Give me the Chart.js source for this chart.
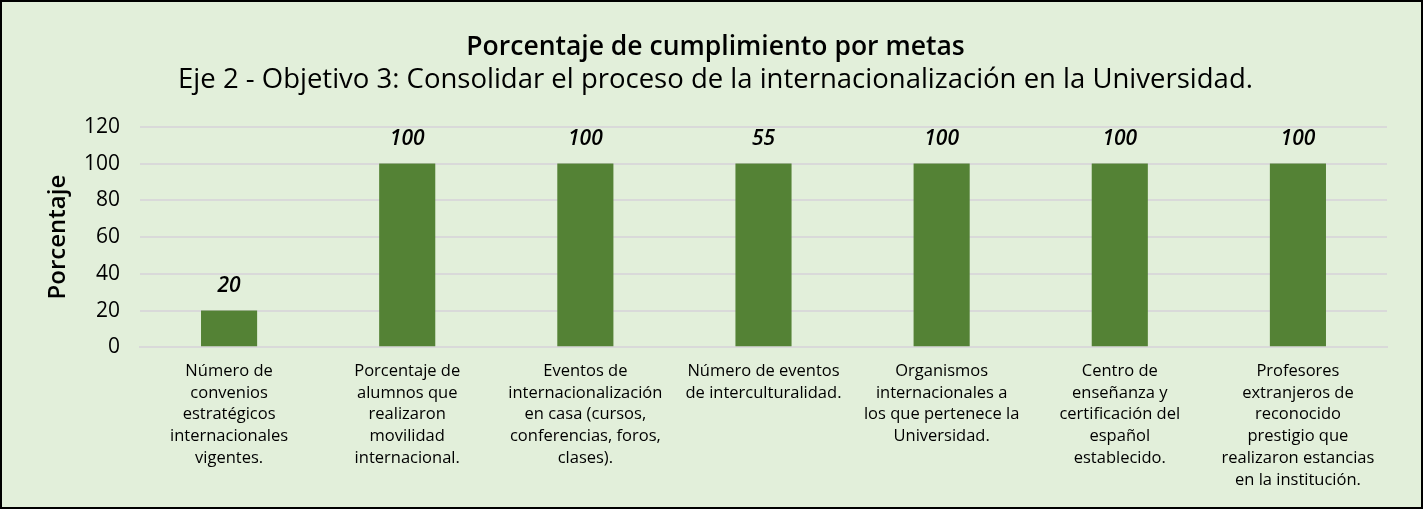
<!DOCTYPE html>
<html lang="es">
<head>
  <meta charset="UTF-8" />
  <title>Porcentaje de cumplimiento por metas</title>
  <script src="https://cdn.jsdelivr.net/npm/chart.js"></script>
  <style>
    html, body { margin: 0; padding: 0; background: #fff; }
    .marco {
      width: 1423px; height: 509px; box-sizing: border-box;
      border: 2px solid #000; background: #E2EFDA; position: relative;
    }
  </style>
</head>
<body>
  <div class="marco">
    <canvas id="grafico"></canvas>
  </div>
<script>
  // categorias (cada una partida en lineas como en el original)
  const metas = [
    ['Número de', 'convenios', 'estratégicos', 'internacionales', 'vigentes.'],
    ['Porcentaje de', 'alumnos que', 'realizaron', 'movilidad', 'internacional.'],
    ['Eventos de', 'internacionalización', 'en casa (cursos,', 'conferencias, foros,', 'clases).'],
    ['Número de eventos', 'de interculturalidad.'],
    ['Organismos', 'internacionales a', 'los que pertenece la', 'Universidad.'],
    ['Centro de', 'enseñanza y', 'certificación del', 'español', 'establecido.'],
    ['Profesores', 'extranjeros de', 'reconocido', 'prestigio que', 'realizaron estancias', 'en la institución.']
  ];
  const porcentajes = [20, 100, 100, 100, 100, 100, 100];
  const etiquetas = ['20', '100', '100', '55', '100', '100', '100'];

  const fuente = "'Open Sans', 'DejaVu Sans', sans-serif";

  // etiquetas de datos encima de cada barra
  const pluginEtiquetas = {
    id: 'etiquetas',
    afterDatasetsDraw(chart) {
      const ctx = chart.ctx;
      const meta = chart.getDatasetMeta(0);
      ctx.save();
      ctx.fillStyle = '#000';
      ctx.textAlign = 'center';
      ctx.textBaseline = 'middle';
      ctx.font = 'italic 600 21px ' + fuente;
      meta.data.forEach(function (barra, i) {
        ctx.fillText(etiquetas[i], barra.x, barra.y - 25);
      });
      ctx.restore();
    }
  };

  new Chart(document.getElementById('grafico'), {
    type: 'bar',
    data: {
      labels: metas,
      datasets: [{
        data: porcentajes,
        backgroundColor: '#548235',
        barPercentage: 0.315,
        categoryPercentage: 1
      }]
    },
    options: {
      responsive: true,
      maintainAspectRatio: false,
      animation: false,
      layout: { padding: { left: 42, right: 34, top: 14, bottom: 3 } },
      plugins: {
        legend: { display: false },
        tooltip: { enabled: false },
        title: {
          display: true,
          text: 'Porcentaje de cumplimiento por metas',
          color: '#000',
          font: { family: fuente, size: 26.5, weight: '600' },
          padding: { top: 16, bottom: 0 }
        },
        subtitle: {
          display: true,
          text: 'Eje 2 - Objetivo 3: Consolidar el proceso de la internacionalización en la Universidad.',
          color: '#000',
          font: { family: fuente, size: 27.5, weight: 'normal' },
          padding: { top: 0, bottom: 30 }
        }
      },
      scales: {
        x: {
          grid: { display: false, drawTicks: false },
          border: { color: '#D9D9D9', width: 2 },
          ticks: {
            color: '#000',
            maxRotation: 0,
            autoSkip: false,
            padding: 13,
            font: { family: fuente, size: 16.5, lineHeight: 1.32 }
          }
        },
        y: {
          min: 0,
          max: 120,
          afterFit: function (escala) { escala.width = 96; },
          ticks: {
            stepSize: 20,
            color: '#000',
            padding: 20,
            font: { family: fuente, size: 21 }
          },
          grid: { color: '#D9D9D9', lineWidth: 2, drawTicks: false },
          border: { display: false },
          title: {
            display: true,
            text: 'Porcentaje',
            color: '#000',
            font: { family: fuente, size: 24, weight: '600' },
            padding: { top: 0, bottom: 0 }
          }
        }
      }
    },
    plugins: [pluginEtiquetas]
  });
</script>
</body>
</html>
